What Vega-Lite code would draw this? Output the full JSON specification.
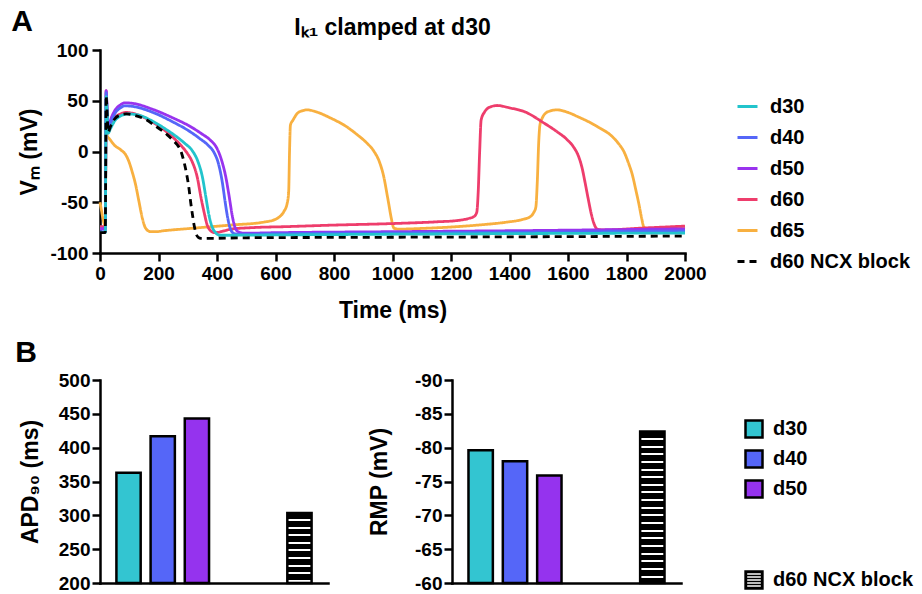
{
  "$schema": "https://vega.github.io/schema/vega-lite/v6.json",
  "padding": {"left": 11, "top": 7, "right": 2, "bottom": 2},
  "background": "white",
  "title": {"text": "A", "anchor": "start", "frame": "bounds", "fontSize": 30, "offset": -20, "dx": -4},
  "datasets": {
    "traces": [
      {"s":"d65","t":0,"v":-50},{"s":"d65","t":5,"v":-58},{"s":"d65","t":10,"v":-66},{"s":"d65","t":15,"v":-72},{"s":"d65","t":18,"v":-74},{"s":"d65","t":21,"v":20},{"s":"d65","t":25,"v":15},{"s":"d65","t":31,"v":13},{"s":"d65","t":48,"v":6.6},{"s":"d65","t":71,"v":1.6},{"s":"d65","t":88,"v":-3.3},{"s":"d65","t":99,"v":-10},{"s":"d65","t":110,"v":-20},{"s":"d65","t":122,"v":-33},{"s":"d65","t":133,"v":-49},{"s":"d65","t":145,"v":-66},{"s":"d65","t":156,"v":-75.6},{"s":"d65","t":173,"v":-79},{"s":"d65","t":190,"v":-79},{"s":"d65","t":220,"v":-78},{"s":"d65","t":300,"v":-76},{"s":"d65","t":447,"v":-72.5},{"s":"d65","t":561,"v":-69.5},{"s":"d65","t":595,"v":-67.4},{"s":"d65","t":615,"v":-64},{"s":"d65","t":629,"v":-59},{"s":"d65","t":640,"v":-51},{"s":"d65","t":645,"v":-40},{"s":"d65","t":648,"v":0},{"s":"d65","t":651,"v":26},{"s":"d65","t":660,"v":31},{"s":"d65","t":675,"v":37.7},{"s":"d65","t":690,"v":40},{"s":"d65","t":709,"v":41},{"s":"d65","t":740,"v":39},{"s":"d65","t":788,"v":33},{"s":"d65","t":840,"v":25},{"s":"d65","t":880,"v":16.4},{"s":"d65","t":910,"v":9},{"s":"d65","t":937,"v":0},{"s":"d65","t":955,"v":-10},{"s":"d65","t":971,"v":-26},{"s":"d65","t":980,"v":-40},{"s":"d65","t":988,"v":-53},{"s":"d65","t":996,"v":-66},{"s":"d65","t":1005,"v":-75.5},{"s":"d65","t":1020,"v":-76.5},{"s":"d65","t":1100,"v":-75.8},{"s":"d65","t":1222,"v":-74},{"s":"d65","t":1300,"v":-72.3},{"s":"d65","t":1393,"v":-69.5},{"s":"d65","t":1440,"v":-67.3},{"s":"d65","t":1472,"v":-64},{"s":"d65","t":1483,"v":-60},{"s":"d65","t":1490,"v":-55},{"s":"d65","t":1495,"v":-30},{"s":"d65","t":1500,"v":10},{"s":"d65","t":1504,"v":26},{"s":"d65","t":1512,"v":33},{"s":"d65","t":1523,"v":37.7},{"s":"d65","t":1540,"v":40},{"s":"d65","t":1563,"v":41},{"s":"d65","t":1600,"v":38.5},{"s":"d65","t":1632,"v":34.5},{"s":"d65","t":1700,"v":24.6},{"s":"d65","t":1757,"v":13.1},{"s":"d65","t":1775,"v":7},{"s":"d65","t":1791,"v":0},{"s":"d65","t":1805,"v":-10},{"s":"d65","t":1820,"v":-23},{"s":"d65","t":1832,"v":-38},{"s":"d65","t":1843,"v":-52.6},{"s":"d65","t":1852,"v":-66},{"s":"d65","t":1860,"v":-74.9},{"s":"d65","t":1875,"v":-76.3},{"s":"d65","t":1950,"v":-75.5},{"s":"d65","t":2000,"v":-74.5},

      {"s":"d60","t":0,"v":-74},{"s":"d60","t":18,"v":-74},{"s":"d60","t":21,"v":60},{"s":"d60","t":24,"v":42},{"s":"d60","t":28,"v":20},{"s":"d60","t":35,"v":25},{"s":"d60","t":50,"v":33},{"s":"d60","t":70,"v":37},{"s":"d60","t":90,"v":38.5},{"s":"d60","t":120,"v":37},{"s":"d60","t":185,"v":28},{"s":"d60","t":225,"v":20},{"s":"d60","t":253,"v":13},{"s":"d60","t":280,"v":5},{"s":"d60","t":299,"v":-2},{"s":"d60","t":315,"v":-10},{"s":"d60","t":333,"v":-26},{"s":"d60","t":345,"v":-45},{"s":"d60","t":356,"v":-60},{"s":"d60","t":366,"v":-72},{"s":"d60","t":378,"v":-78},{"s":"d60","t":392,"v":-80},{"s":"d60","t":420,"v":-78.5},{"s":"d60","t":447,"v":-76.5},{"s":"d60","t":520,"v":-75},{"s":"d60","t":640,"v":-74},{"s":"d60","t":788,"v":-72.6},{"s":"d60","t":1000,"v":-71},{"s":"d60","t":1150,"v":-69.3},{"s":"d60","t":1222,"v":-68},{"s":"d60","t":1260,"v":-66},{"s":"d60","t":1279,"v":-64},{"s":"d60","t":1288,"v":-60},{"s":"d60","t":1293,"v":-40},{"s":"d60","t":1298,"v":0},{"s":"d60","t":1303,"v":31},{"s":"d60","t":1315,"v":39},{"s":"d60","t":1335,"v":44},{"s":"d60","t":1358,"v":45.3},{"s":"d60","t":1400,"v":43},{"s":"d60","t":1450,"v":39.4},{"s":"d60","t":1518,"v":28},{"s":"d60","t":1560,"v":20},{"s":"d60","t":1598,"v":11.4},{"s":"d60","t":1620,"v":4},{"s":"d60","t":1635,"v":-4},{"s":"d60","t":1648,"v":-16},{"s":"d60","t":1660,"v":-33},{"s":"d60","t":1670,"v":-48},{"s":"d60","t":1680,"v":-62},{"s":"d60","t":1690,"v":-72},{"s":"d60","t":1700,"v":-76.5},{"s":"d60","t":1720,"v":-77.3},{"s":"d60","t":1850,"v":-75.5},{"s":"d60","t":2000,"v":-73.5},

      {"s":"d50","t":0,"v":-76},{"s":"d50","t":18,"v":-76},{"s":"d50","t":21,"v":60},{"s":"d50","t":24,"v":44},{"s":"d50","t":28,"v":22},{"s":"d50","t":35,"v":30},{"s":"d50","t":50,"v":40},{"s":"d50","t":70,"v":46},{"s":"d50","t":85,"v":48},{"s":"d50","t":110,"v":47.5},{"s":"d50","t":185,"v":41},{"s":"d50","t":250,"v":33},{"s":"d50","t":300,"v":26},{"s":"d50","t":350,"v":17},{"s":"d50","t":378,"v":11},{"s":"d50","t":400,"v":3},{"s":"d50","t":415,"v":-8},{"s":"d50","t":430,"v":-25},{"s":"d50","t":442,"v":-45},{"s":"d50","t":452,"v":-63},{"s":"d50","t":462,"v":-75},{"s":"d50","t":475,"v":-79.5},{"s":"d50","t":495,"v":-80.5},{"s":"d50","t":600,"v":-80},{"s":"d50","t":1000,"v":-79},{"s":"d50","t":1500,"v":-77.8},{"s":"d50","t":2000,"v":-76.2},

      {"s":"d40","t":0,"v":-79},{"s":"d40","t":18,"v":-79},{"s":"d40","t":21,"v":58},{"s":"d40","t":24,"v":42},{"s":"d40","t":28,"v":20},{"s":"d40","t":35,"v":27},{"s":"d40","t":50,"v":37},{"s":"d40","t":70,"v":43},{"s":"d40","t":85,"v":45},{"s":"d40","t":110,"v":44.5},{"s":"d40","t":185,"v":38},{"s":"d40","t":250,"v":29},{"s":"d40","t":300,"v":21},{"s":"d40","t":340,"v":13},{"s":"d40","t":370,"v":6},{"s":"d40","t":390,"v":-1},{"s":"d40","t":405,"v":-12},{"s":"d40","t":418,"v":-30},{"s":"d40","t":428,"v":-50},{"s":"d40","t":437,"v":-66},{"s":"d40","t":447,"v":-77},{"s":"d40","t":460,"v":-81},{"s":"d40","t":480,"v":-81.5},{"s":"d40","t":600,"v":-81},{"s":"d40","t":1000,"v":-80.2},{"s":"d40","t":1500,"v":-79.3},{"s":"d40","t":2000,"v":-78.3},

      {"s":"d30","t":0,"v":-80},{"s":"d30","t":18,"v":-80},{"s":"d30","t":21,"v":54},{"s":"d30","t":24,"v":40},{"s":"d30","t":28,"v":18},{"s":"d30","t":35,"v":22},{"s":"d30","t":50,"v":30},{"s":"d30","t":70,"v":35},{"s":"d30","t":95,"v":37},{"s":"d30","t":130,"v":36},{"s":"d30","t":185,"v":29},{"s":"d30","t":230,"v":21},{"s":"d30","t":260,"v":15},{"s":"d30","t":290,"v":8},{"s":"d30","t":315,"v":1},{"s":"d30","t":335,"v":-10},{"s":"d30","t":350,"v":-25},{"s":"d30","t":362,"v":-45},{"s":"d30","t":372,"v":-62},{"s":"d30","t":383,"v":-74},{"s":"d30","t":395,"v":-80},{"s":"d30","t":410,"v":-82.5},{"s":"d30","t":450,"v":-82.5},{"s":"d30","t":600,"v":-82.2},{"s":"d30","t":1000,"v":-81.5},{"s":"d30","t":1500,"v":-80.8},{"s":"d30","t":2000,"v":-80.3},

      {"s":"d60 NCX block","t":0,"v":-80},{"s":"d60 NCX block","t":18,"v":-80},{"s":"d60 NCX block","t":21,"v":55},{"s":"d60 NCX block","t":24,"v":40},{"s":"d60 NCX block","t":28,"v":19},{"s":"d60 NCX block","t":35,"v":24},{"s":"d60 NCX block","t":50,"v":32},{"s":"d60 NCX block","t":70,"v":36},{"s":"d60 NCX block","t":90,"v":37},{"s":"d60 NCX block","t":120,"v":35.5},{"s":"d60 NCX block","t":160,"v":31},{"s":"d60 NCX block","t":185,"v":26},{"s":"d60 NCX block","t":210,"v":21},{"s":"d60 NCX block","t":230,"v":16.4},{"s":"d60 NCX block","t":250,"v":11},{"s":"d60 NCX block","t":264,"v":6.6},{"s":"d60 NCX block","t":277,"v":0},{"s":"d60 NCX block","t":287,"v":-10},{"s":"d60 NCX block","t":296,"v":-22},{"s":"d60 NCX block","t":304,"v":-36},{"s":"d60 NCX block","t":310,"v":-50},{"s":"d60 NCX block","t":316,"v":-62},{"s":"d60 NCX block","t":322,"v":-73},{"s":"d60 NCX block","t":328,"v":-80.5},{"s":"d60 NCX block","t":336,"v":-84.5},{"s":"d60 NCX block","t":345,"v":-85.5},{"s":"d60 NCX block","t":380,"v":-85.5},{"s":"d60 NCX block","t":500,"v":-85},{"s":"d60 NCX block","t":1000,"v":-84.5},{"s":"d60 NCX block","t":1500,"v":-84},{"s":"d60 NCX block","t":2000,"v":-83.3}
    ],
    "bars": [
      {"s":"d30","apd":363,"rmp":-79.6},
      {"s":"d40","apd":417,"rmp":-78.0},
      {"s":"d50","apd":443,"rmp":-75.9},
      {"s":"d60 NCX block","apd":303.4,"rmp":-82.4}
    ]
  },
  "resolve": {"scale": {"color": "independent", "strokeDash": "independent", "shape": "independent", "stroke": "independent"}, "legend": {"color": "independent", "strokeDash": "independent", "shape": "independent", "stroke": "independent"}},
  "spacing": 16,
  "vconcat": [
    {
      "width": 585,
      "height": 203,
      "title": {"text": "Iₖ₁ clamped at d30", "fontSize": 23, "anchor": "middle", "offset": 1},
      "data": {"name": "traces"},
      "mark": {"type": "line", "strokeWidth": 2.8, "interpolate": "monotone"},
      "encoding": {
        "x": {"field": "t", "type": "quantitative", "scale": {"domain": [0, 2000], "nice": false},
              "axis": {"values": [0,200,400,600,800,1000,1200,1400,1600,1800,2000], "title": "Time (ms)", "titlePadding": 16, "labelOverlap": false, "labelFlush": false, "labelPadding": 3, "labelExpr": "toString(datum.value)"}},
        "y": {"field": "v", "type": "quantitative", "scale": {"domain": [-100, 100], "nice": false},
              "axis": {"values": [-100,-50,0,50,100], "title": "Vₘ (mV)", "titlePadding": 8, "labelPadding": 4, "labelExpr": "toString(datum.value)"}},
        "color": {"field": "s", "type": "nominal",
                  "scale": {"domain": ["d30","d40","d50","d60","d65","d60 NCX block"], "range": ["#22C4CC","#5566F8","#9933EE","#EE3D6C","#F8B040","black"]},
                  "legend": {"orient": "none", "legendX": 636, "legendY": 45, "title": null, "symbolType": "stroke", "symbolSize": 400, "symbolStrokeWidth": 3, "labelOffset": 11, "rowPadding": 9, "labelFontSize": 20}},
        "strokeDash": {"field": "s", "type": "nominal",
                  "scale": {"domain": ["d30","d40","d50","d60","d65","d60 NCX block"], "range": [[1,0],[1,0],[1,0],[1,0],[1,0],[7,5]]},
                  "legend": {"orient": "none", "legendX": 636, "legendY": 45, "title": null, "symbolType": "stroke", "symbolSize": 400, "symbolStrokeWidth": 3, "labelOffset": 11, "rowPadding": 9, "labelFontSize": 20}}
      }
    },
    {
      "title": {"text": "B", "anchor": "start", "frame": "bounds", "fontSize": 30, "dx": -4, "offset": 3},
      "spacing": 40,
      "resolve": {"scale": {"color": "independent", "shape": "independent", "stroke": "independent"}, "legend": {"color": "independent", "shape": "independent", "stroke": "independent"}},
      "hconcat": [
        {
          "width": 228,
          "height": 203,
          "data": {"name": "bars"},
          "encoding": {
            "x": {"field": "s", "type": "nominal", "scale": {"domain": ["d30","d40","d50","g1","g2","d60 NCX block"], "paddingInner": 0.29, "paddingOuter": 0.48},
                  "axis": {"labels": false, "ticks": false, "title": null}},
            "y": {"field": "apd", "type": "quantitative", "scale": {"domain": [200, 500], "nice": false, "zero": false},
                  "axis": {"values": [200,250,300,350,400,450,500], "title": "APD₉₀ (ms)", "titlePadding": 16}},
            "y2": {"datum": 200}
          },
          "layer": [
            {
              "transform": [{"filter": "datum.s !== 'd60 NCX block'"}],
              "mark": {"type": "bar", "stroke": "black", "strokeWidth": 2.5},
              "encoding": {"color": {"field": "s", "type": "nominal",
                "scale": {"domain": ["d30","d40","d50"," ","  ","d60 NCX block"], "range": ["#33C5D1","#5566F8","#9533EE","transparent","transparent","black"]}, "legend": null}}
            },
            {
              "transform": [{"filter": "datum.s === 'd60 NCX block'"}],
              "mark": {"type": "bar", "stroke": "black", "strokeWidth": 2.5,
                "fill": {"gradient": "linear", "x1": 0, "y1": 0, "x2": 0, "y2": 1, "stops": [
                  {"offset": 0, "color": "black"},
                  {"offset": 0.0857, "color": "black"},{"offset": 0.0857, "color": "white"},{"offset": 0.1143, "color": "white"},{"offset": 0.1143, "color": "black"},
                  {"offset": 0.1943, "color": "black"},{"offset": 0.1943, "color": "white"},{"offset": 0.2229, "color": "white"},{"offset": 0.2229, "color": "black"},
                  {"offset": 0.3029, "color": "black"},{"offset": 0.3029, "color": "white"},{"offset": 0.3314, "color": "white"},{"offset": 0.3314, "color": "black"},
                  {"offset": 0.4114, "color": "black"},{"offset": 0.4114, "color": "white"},{"offset": 0.44, "color": "white"},{"offset": 0.44, "color": "black"},
                  {"offset": 0.52, "color": "black"},{"offset": 0.52, "color": "white"},{"offset": 0.5486, "color": "white"},{"offset": 0.5486, "color": "black"},
                  {"offset": 0.6286, "color": "black"},{"offset": 0.6286, "color": "white"},{"offset": 0.6571, "color": "white"},{"offset": 0.6571, "color": "black"},
                  {"offset": 0.7371, "color": "black"},{"offset": 0.7371, "color": "white"},{"offset": 0.7657, "color": "white"},{"offset": 0.7657, "color": "black"},
                  {"offset": 0.8457, "color": "black"},{"offset": 0.8457, "color": "white"},{"offset": 0.8743, "color": "white"},{"offset": 0.8743, "color": "black"},
                  {"offset": 0.9543, "color": "black"},{"offset": 0.9543, "color": "white"},{"offset": 0.9829, "color": "white"},{"offset": 0.9829, "color": "black"},
                  {"offset": 1, "color": "black"}
                ]}}
            }
          ]
        },
        {
          "width": 229,
          "height": 203,
          "data": {"name": "bars"},
          "encoding": {
            "x": {"field": "s", "type": "nominal", "scale": {"domain": ["d30","d40","d50","g1","g2","d60 NCX block"], "paddingInner": 0.29, "paddingOuter": 0.48},
                  "axis": {"labels": false, "ticks": false, "title": null}},
            "y": {"field": "rmp", "type": "quantitative", "scale": {"domain": [-60, -90], "nice": false, "zero": false},
                  "axis": {"values": [-90,-85,-80,-75,-70,-65,-60], "title": "RMP (mV)", "titlePadding": 23, "labelExpr": "toString(datum.value)"}}
          },
          "layer": [
            {
              "transform": [{"filter": "datum.s !== 'd60 NCX block'"}],
              "mark": {"type": "bar", "stroke": "black", "strokeWidth": 2.5},
              "encoding": {
                "y2": {"datum": -60},
                "color": {"field": "s", "type": "nominal",
                "scale": {"domain": ["d30","d40","d50"," ","  ","d60 NCX block"], "range": ["#33C5D1","#5566F8","#9533EE","transparent","transparent","black"]},
                "legend": {"orient": "none", "legendX": 292, "legendY": 39, "title": null, "symbolSize": 289, "symbolStrokeWidth": 2.5, "symbolOpacity": 1, "labelFontSize": 20, "labelOffset": 9, "rowPadding": 2}}}
            },
            {
              "transform": [{"filter": "datum.s === 'd60 NCX block'"}],
              "encoding": {"y2": {"datum": -60}},
              "mark": {"type": "bar", "stroke": "black", "strokeWidth": 2.5,
                "fill": {"gradient": "linear", "x1": 0, "y1": 0, "x2": 0, "y2": 1, "stops": [
                  {"offset": 0, "color": "black"},
                  {"offset": 0.0429, "color": "black"},{"offset": 0.0429, "color": "white"},{"offset": 0.0561, "color": "white"},{"offset": 0.0561, "color": "black"},
                  {"offset": 0.0933, "color": "black"},{"offset": 0.0933, "color": "white"},{"offset": 0.1065, "color": "white"},{"offset": 0.1065, "color": "black"},
                  {"offset": 0.1438, "color": "black"},{"offset": 0.1438, "color": "white"},{"offset": 0.157, "color": "white"},{"offset": 0.157, "color": "black"},
                  {"offset": 0.1943, "color": "black"},{"offset": 0.1943, "color": "white"},{"offset": 0.2075, "color": "white"},{"offset": 0.2075, "color": "black"},
                  {"offset": 0.2447, "color": "black"},{"offset": 0.2447, "color": "white"},{"offset": 0.2579, "color": "white"},{"offset": 0.2579, "color": "black"},
                  {"offset": 0.2952, "color": "black"},{"offset": 0.2952, "color": "white"},{"offset": 0.3084, "color": "white"},{"offset": 0.3084, "color": "black"},
                  {"offset": 0.3456, "color": "black"},{"offset": 0.3456, "color": "white"},{"offset": 0.3588, "color": "white"},{"offset": 0.3588, "color": "black"},
                  {"offset": 0.3961, "color": "black"},{"offset": 0.3961, "color": "white"},{"offset": 0.4093, "color": "white"},{"offset": 0.4093, "color": "black"},
                  {"offset": 0.4466, "color": "black"},{"offset": 0.4466, "color": "white"},{"offset": 0.4598, "color": "white"},{"offset": 0.4598, "color": "black"},
                  {"offset": 0.497, "color": "black"},{"offset": 0.497, "color": "white"},{"offset": 0.5102, "color": "white"},{"offset": 0.5102, "color": "black"},
                  {"offset": 0.5475, "color": "black"},{"offset": 0.5475, "color": "white"},{"offset": 0.5607, "color": "white"},{"offset": 0.5607, "color": "black"},
                  {"offset": 0.598, "color": "black"},{"offset": 0.598, "color": "white"},{"offset": 0.6112, "color": "white"},{"offset": 0.6112, "color": "black"},
                  {"offset": 0.6484, "color": "black"},{"offset": 0.6484, "color": "white"},{"offset": 0.6616, "color": "white"},{"offset": 0.6616, "color": "black"},
                  {"offset": 0.6989, "color": "black"},{"offset": 0.6989, "color": "white"},{"offset": 0.7121, "color": "white"},{"offset": 0.7121, "color": "black"},
                  {"offset": 0.7493, "color": "black"},{"offset": 0.7493, "color": "white"},{"offset": 0.7625, "color": "white"},{"offset": 0.7625, "color": "black"},
                  {"offset": 0.7998, "color": "black"},{"offset": 0.7998, "color": "white"},{"offset": 0.813, "color": "white"},{"offset": 0.813, "color": "black"},
                  {"offset": 0.8503, "color": "black"},{"offset": 0.8503, "color": "white"},{"offset": 0.8635, "color": "white"},{"offset": 0.8635, "color": "black"},
                  {"offset": 0.9007, "color": "black"},{"offset": 0.9007, "color": "white"},{"offset": 0.9139, "color": "white"},{"offset": 0.9139, "color": "black"},
                  {"offset": 0.9512, "color": "black"},{"offset": 0.9512, "color": "white"},{"offset": 0.9644, "color": "white"},{"offset": 0.9644, "color": "black"},
                  {"offset": 1, "color": "black"}
                ]}}
            },
            {
              "transform": [{"filter": "false"}],
              "mark": {"type": "point", "filled": true, "opacity": 1},
              "encoding": {
                "color": {"field": "s", "type": "nominal",
                  "scale": {"domain": ["d30","d40","d50"," ","  ","d60 NCX block"], "range": ["#33C5D1","#5566F8","#9533EE","transparent","transparent","black"]},
                  "legend": {"orient": "none", "legendX": 292, "legendY": 39, "title": null, "symbolSize": 289, "symbolStrokeWidth": 2.5, "symbolOpacity": 1, "labelFontSize": 20, "labelOffset": 9, "rowPadding": 2}},
                "shape": {"field": "s", "type": "nominal",
                  "scale": {"domain": ["d30","d40","d50"," ","  ","d60 NCX block"], "range": ["square","square","square","square","square","M-1.14,-1.14H1.14V1.14H-1.14Z M-0.8,-0.78V-0.62H0.8V-0.78Z M-0.8,-0.43V-0.27H0.8V-0.43Z M-0.8,-0.08V0.08H0.8V-0.08Z M-0.8,0.27V0.43H0.8V0.27Z M-0.8,0.62V0.78H0.8V0.62Z"]},
                  "legend": {"orient": "none", "legendX": 292, "legendY": 39, "title": null, "symbolSize": 289, "symbolStrokeWidth": 2.5, "symbolOpacity": 1, "labelFontSize": 20, "labelOffset": 9, "rowPadding": 2}},
                "stroke": {"field": "s", "type": "nominal",
                  "scale": {"domain": ["d30","d40","d50"," ","  ","d60 NCX block"], "range": ["black","black","black","transparent","transparent","transparent"]},
                  "legend": {"orient": "none", "legendX": 292, "legendY": 39, "title": null, "symbolSize": 289, "symbolStrokeWidth": 2.5, "symbolOpacity": 1, "labelFontSize": 20, "labelOffset": 9, "rowPadding": 2}}
              }
            }
          ]
        }
      ]
    }
  ],
  "config": {
    "font": "Liberation Sans",
    "view": {"stroke": null},
    "axis": {"domainColor": "black", "domainWidth": 2.5, "domainCap": "square", "tickColor": "black", "tickWidth": 2.5, "tickSize": 8, "labelFont": "Liberation Sans", "labelFontSize": 19, "labelFontWeight": "bold", "labelColor": "black", "labelPadding": 2, "titleFont": "Liberation Sans", "titleFontSize": 23, "titleFontWeight": "bold", "titleColor": "black", "grid": false},
    "legend": {"labelFont": "Liberation Sans", "labelFontWeight": "bold", "labelColor": "black", "padding": 0},
    "title": {"font": "Liberation Sans", "fontWeight": "bold", "color": "black"}
  }
}
